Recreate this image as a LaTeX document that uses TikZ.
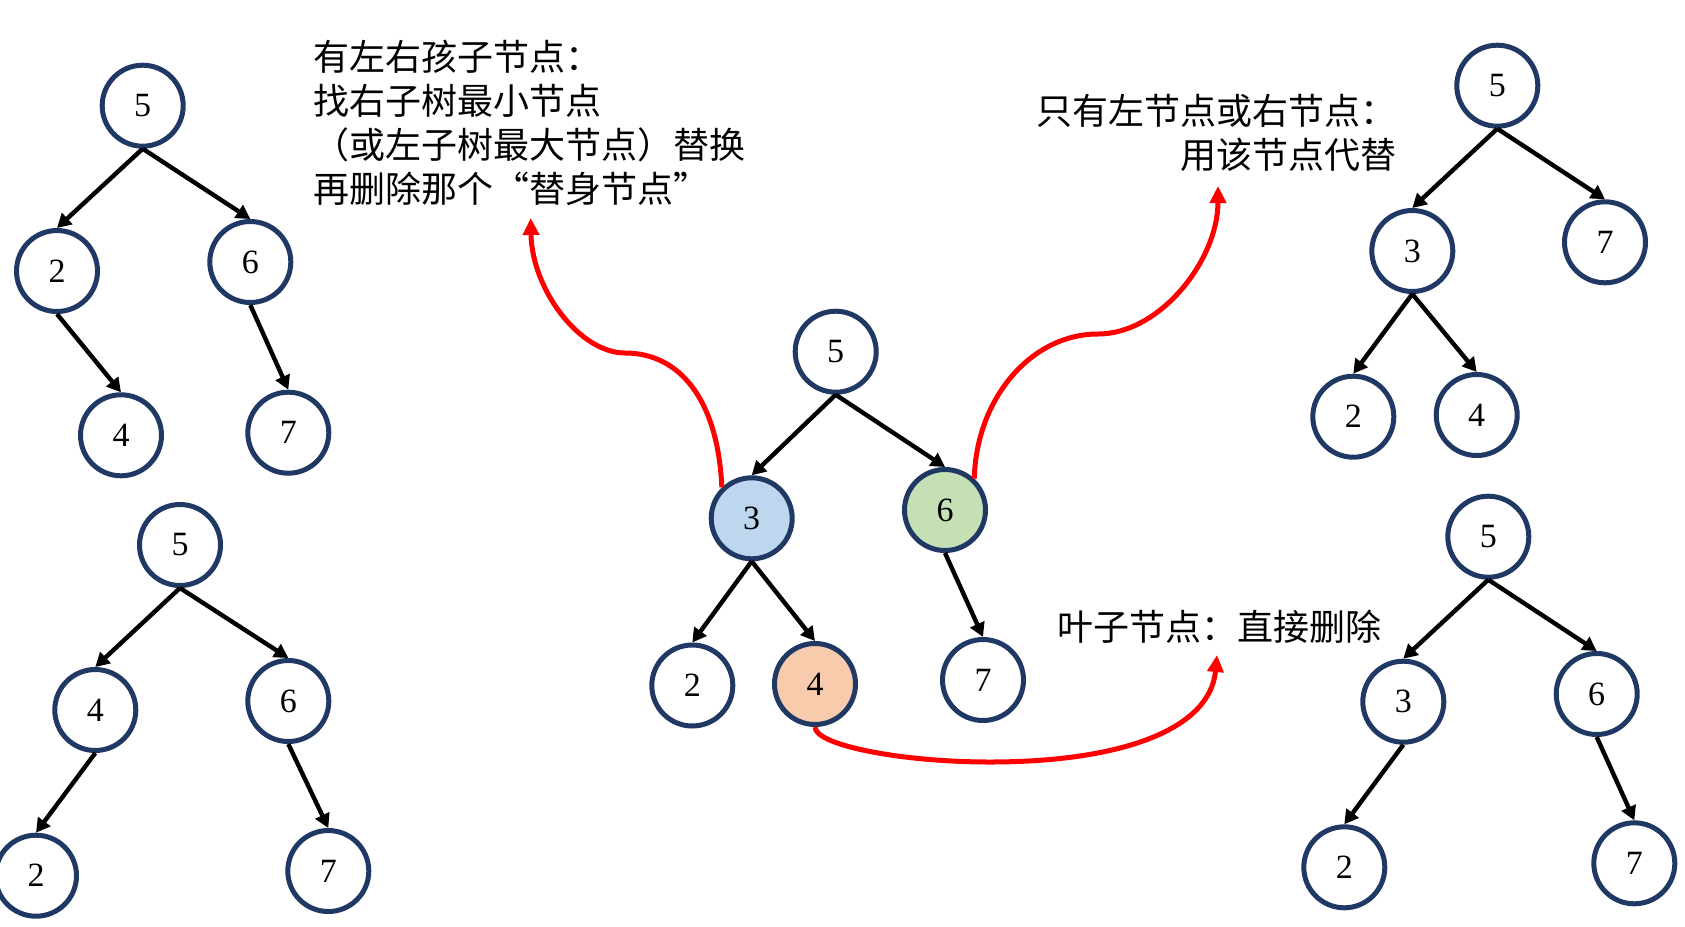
\documentclass[tikz,border=0pt]{standalone}
\usepackage{fontspec}
\setmainfont{Liberation Serif}
\newfontfamily\cjk{Noto Sans CJK SC}
\usetikzlibrary{arrows.meta}
\definecolor{navy}{HTML}{203864}
\definecolor{fblue}{HTML}{BDD7EE}
\definecolor{fgreen}{HTML}{C5E0B4}
\definecolor{forange}{HTML}{F8CBAD}
\definecolor{redline}{HTML}{FF0000}
\begin{document}
\begin{tikzpicture}[x=1pt,y=-1pt,
  tnode/.style={circle, draw=navy, line width=5pt, minimum size=81pt, inner sep=0pt, fill=white, font=\fontsize{34}{34}\selectfont},
  treeedge/.style={-{Triangle[length=14pt,width=15pt]}, line width=4.4pt, draw=black},
  redarrow/.style={-{Triangle[length=17pt,width=16pt]}, line width=5pt, draw=redline},
  note/.style={font=\cjk\fontsize{36}{44}\selectfont, inner sep=0pt}
]
\useasboundingbox (0,0) rectangle (1685,926);

% top-left tree
\node[tnode] (A5) at (142.7,105.7) {5};
\node[tnode] (A2) at (57,271) {2};
\node[tnode] (A6) at (250.3,262) {6};
\node[tnode] (A4) at (121,435.3) {4};
\node[tnode] (A7) at (288.3,432.7) {7};
\draw[treeedge] (A5.south) -- (A2.north);
\draw[treeedge] (A5.south) -- (A6.north);
\draw[treeedge] (A2.south) -- (A4.north);
\draw[treeedge] (A6.south) -- (A7.north);

% bottom-left tree
\node[tnode] (B5) at (180,545) {5};
\node[tnode] (B4) at (95.3,710) {4};
\node[tnode] (B6) at (288.3,701) {6};
\node[tnode] (B2) at (36,875.7) {2};
\node[tnode] (B7) at (328.3,871) {7};
\draw[treeedge] (B5.south) -- (B4.north);
\draw[treeedge] (B5.south) -- (B6.north);
\draw[treeedge] (B4.south) -- (B2.north);
\draw[treeedge] (B6.south) -- (B7.north);

% center tree
\node[tnode] (C5) at (835.7,351.7) {5};
\node[tnode, fill=fblue] (C3) at (751.7,518.3) {3};
\node[tnode, fill=fgreen] (C6) at (945,510) {6};
\node[tnode] (C2) at (692.3,685.5) {2};
\node[tnode, fill=forange] (C4) at (815,684) {4};
\node[tnode] (C7) at (983,680) {7};
\draw[treeedge] (C5.south) -- (C3.north);
\draw[treeedge] (C5.south) -- (C6.north);
\draw[treeedge] (C3.south) -- (C2.north);
\draw[treeedge] (C3.south) -- (C4.north);
\draw[treeedge] (C6.south) -- (C7.north);

% top-right tree
\node[tnode] (D5) at (1497.3,85.7) {5};
\node[tnode] (D3) at (1412.3,251) {3};
\node[tnode] (D7) at (1605,242.3) {7};
\node[tnode] (D2) at (1353.3,416.7) {2};
\node[tnode] (D4) at (1476.7,415) {4};
\draw[treeedge] (D5.south) -- (D3.north);
\draw[treeedge] (D5.south) -- (D7.north);
\draw[treeedge] (D3.south) -- (D2.north);
\draw[treeedge] (D3.south) -- (D4.north);

% bottom-right tree
\node[tnode] (E5) at (1488.3,536.7) {5};
\node[tnode] (E3) at (1403.3,701.7) {3};
\node[tnode] (E6) at (1596.7,694) {6};
\node[tnode] (E2) at (1344.3,867.3) {2};
\node[tnode] (E7) at (1634.3,863.3) {7};
\draw[treeedge] (E5.south) -- (E3.north);
\draw[treeedge] (E5.south) -- (E6.north);
\draw[treeedge] (E3.south) -- (E2.north);
\draw[treeedge] (E6.south) -- (E7.north);

% notes
\node[note, anchor=north west, align=left] (N1) at (313,40)
  {有左右孩子节点：\\找右子树最小节点\\（或左子树最大节点）替换\\再删除那个“替身节点”};
\node[note, anchor=north east, align=right] (N2) at (1397,94.5)
  {只有左节点或右节点：\\用该节点代替};
\node[note, anchor=west] (N3) at (1057,627) {叶子节点：直接删除};

% red arrows
\coordinate (T1) at (530.7,218);
\coordinate (T2) at (1218,186);
\coordinate (T3) at (1217,655);
\draw[redarrow] (C3.134) .. controls (718,400) and (680,353) .. (625,353)
  .. controls (580,353) and (532,290) .. (T1);
\draw[redarrow] (C6.47) .. controls (976,400) and (1030,334) .. (1098,334)
  .. controls (1160,334) and (1218,260) .. (T2);
\draw[redarrow] (C4.south) .. controls (815,745) and (900,762) .. (990,762)
  .. controls (1120,762) and (1210,730) .. (T3);
\end{tikzpicture}
\end{document}
